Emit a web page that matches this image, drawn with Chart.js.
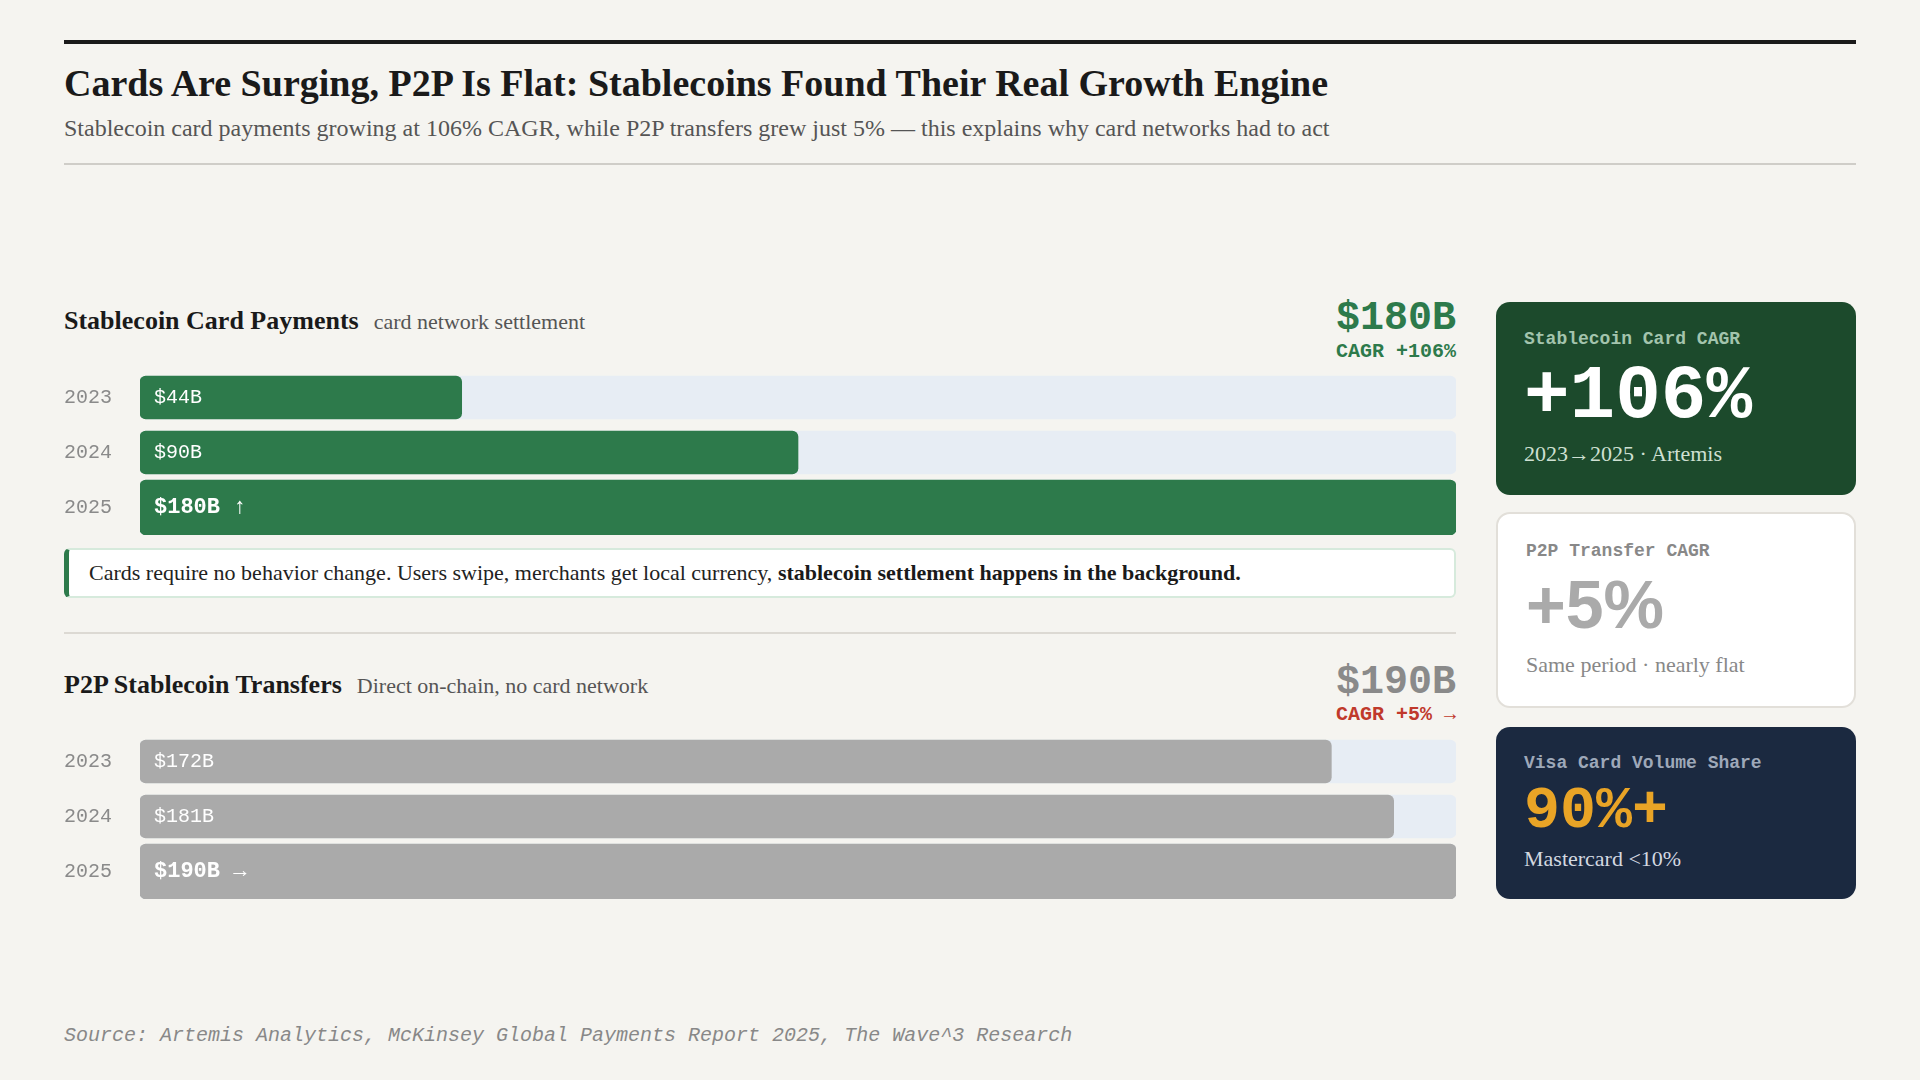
<!DOCTYPE html>
<html>
<head>
<meta charset="utf-8">
<script src="https://cdn.jsdelivr.net/npm/chart.js@4.4.1/dist/chart.umd.min.js"></script>
<style>
  html, body { margin:0; padding:0; }
  body { width:1920px; height:1080px; background:#f5f4f0; position:relative; overflow:hidden; font-family:"Liberation Serif", serif; }
  .abs { position:absolute; }
  .rule-top { left:64px; top:40px; width:1792px; height:4px; background:#1a1a1a; }
  .title { left:64px; top:61.4px; font-size:38px; line-height:45.6px; font-weight:bold; color:#1a1a1a; white-space:nowrap; }
  .subtitle { left:64px; top:113.5px; font-size:24px; line-height:28.8px; color:#555; white-space:nowrap; }
  .rule-thin { left:64px; top:163px; width:1792px; height:2px; background:#cfcdc8; }
  .sec-title { left:64px; font-size:26px; line-height:30px; font-weight:bold; color:#1a1a1a; white-space:nowrap; }
  .sec-title span { font-weight:normal; font-size:22px; color:#555; margin-left:15px; }
  .big-val { right:464px; font-family:"Liberation Mono", monospace; font-weight:bold; font-size:40px; line-height:40px; text-align:right; white-space:nowrap; }
  .cagr { right:464px; font-family:"Liberation Mono", monospace; font-weight:bold; font-size:20px; line-height:24px; text-align:right; white-space:nowrap; }
  .chart-box { left:64px; width:1392px; height:165px; }
  .note { left:64px; top:548px; width:1392px; height:50px; box-sizing:border-box; background:#fff; border:2px solid #d6eadc; border-left:5px solid #2d7a4b; border-radius:6px; display:flex; align-items:center; padding-left:20px; font-size:22px; line-height:26px; color:#222; white-space:nowrap; }
  .note b { color:#1a1a1a; }
  .divider { left:64px; top:632px; width:1392px; height:2px; background:#dcd9d3; }
  .card { left:1496px; width:360px; box-sizing:border-box; border-radius:14px; }
  .card .lbl { position:absolute; left:28px; font-family:"Liberation Mono", monospace; font-weight:bold; font-size:18px; line-height:22px; white-space:nowrap; }
  .card .num { position:absolute; left:28px; font-family:"Liberation Mono", monospace; font-weight:bold; white-space:nowrap; }
  .card .sub { position:absolute; left:28px; font-size:22px; line-height:26.4px; white-space:nowrap; }
  .source { left:64px; top:1023.7px; font-family:"Liberation Mono", monospace; font-style:italic; font-size:20px; line-height:24px; color:#888; white-space:nowrap; }
</style>
</head>
<body>
  <div class="abs rule-top"></div>
  <div class="abs title">Cards Are Surging, P2P Is Flat: Stablecoins Found Their Real Growth Engine</div>
  <div class="abs subtitle">Stablecoin card payments growing at 106% CAGR, while P2P transfers grew just 5% — this explains why card networks had to act</div>
  <div class="abs rule-thin"></div>

  <!-- Section 1 -->
  <div class="abs sec-title" style="top:306.2px;">Stablecoin Card Payments<span>card network settlement</span></div>
  <div class="abs big-val" style="top:299.3px; color:#2d7a4b;">$180B</div>
  <div class="abs cagr" style="top:339.7px; color:#2d7a4b;">CAGR +106%</div>
  <div class="abs chart-box" style="top:370px;"><canvas id="cardChart"></canvas></div>
  <div class="abs note">Cards require no behavior change. Users swipe, merchants get local currency,&nbsp;<b>stablecoin settlement happens in the background.</b></div>
  <div class="abs divider"></div>

  <!-- Section 2 -->
  <div class="abs sec-title" style="top:670.2px;">P2P Stablecoin Transfers<span>Direct on-chain, no card network</span></div>
  <div class="abs big-val" style="top:663.3px; color:#8a8a8a;">$190B</div>
  <div class="abs cagr" style="top:702.7px; color:#c0392b;">CAGR +5% →</div>
  <div class="abs chart-box" style="top:734px;"><canvas id="p2pChart"></canvas></div>

  <!-- Right cards -->
  <div class="abs card" style="top:302px; height:193px; background:#1c4a2c;">
    <div class="lbl" style="top:26px; color:#a3c4ad;">Stablecoin Card CAGR</div>
    <div class="num" style="top:56.7px; font-size:76px; line-height:76px; color:#ffffff;">+106%</div>
    <div class="sub" style="top:139.4px; color:#cfe0d3;">2023→2025 · Artemis</div>
  </div>
  <div class="abs card" style="top:512px; height:196px; background:#ffffff; border:2px solid #e2dfd9;">
    <div class="lbl" style="top:26px; color:#888;">P2P Transfer CAGR</div>
    <div class="num" style="top:56.4px; font-family:'Liberation Sans', sans-serif; font-size:68px; line-height:68px; color:#aaaaaa;">+5%</div>
    <div class="sub" style="top:138.4px; color:#888;">Same period · nearly flat</div>
  </div>
  <div class="abs card" style="top:727px; height:172px; background:#1b2940;">
    <div class="lbl" style="top:25px; color:#9ea8b9;">Visa Card Volume Share</div>
    <div class="num" style="top:54px; font-size:60px; line-height:60px; color:#e9a426;">90%+</div>
    <div class="sub" style="top:119.4px; color:#d3d8e0;">Mastercard &lt;10%</div>
  </div>

  <div class="abs source">Source: Artemis Analytics, McKinsey Global Payments Report 2025, The Wave^3 Research</div>

<script>
// ---- Data ----
const years = ['2023', '2024', '2025'];
const cardValues = [44, 90, 180];      // $B, stablecoin card payments
const p2pValues = [172, 181, 190];     // $B, P2P stablecoin transfers
const cardScaleMax = 180;
const p2pScaleMax = 190;
const cardArrow = '↑';
const p2pArrow = '→';

const barLabelPlugin = {
  id: 'barLabelPlugin',
  afterDatasetsDraw(chart) {
    const ctx = chart.ctx;
    chart.data.datasets.forEach((ds, i) => {
      if (!ds.isValue) return;
      const meta = chart.getDatasetMeta(i);
      meta.data.forEach((el, j) => {
        const v = ds.data[j];
        if (v === null || v === undefined) return;
        ctx.save();
        ctx.font = (ds.isFinal ? 'bold 22px' : '20px') + ' "Liberation Mono", monospace';
        ctx.fillStyle = '#ffffff';
        ctx.textBaseline = 'middle';
        ctx.textAlign = 'left';
        const txt = '$' + v + 'B' + (ds.isFinal ? ' ' + ds.arrow : '');
        ctx.fillText(txt, el.base + 14, el.y);
        ctx.restore();
      });
    });
  }
};

function makeChart(id, values, scaleMax, color, arrow) {
  const last = values.length - 1;
  const early = values.map((v, i) => i < last ? v : null);
  const final = values.map((v, i) => i === last ? v : null);
  const trackEarly = values.map((v, i) => i < last ? scaleMax : null);
  const trackFinal = values.map((v, i) => i === last ? scaleMax : null);
  const common = { grouped: false, borderRadius: 6, borderSkipped: false, borderWidth: 0 };
  return new Chart(document.getElementById(id), {
    type: 'bar',
    data: {
      labels: years,
      datasets: [
        Object.assign({ data: trackEarly, backgroundColor: '#e7edf4', barThickness: 43, order: 2 }, common),
        Object.assign({ data: trackFinal, backgroundColor: '#e7edf4', barThickness: 55, order: 2 }, common),
        Object.assign({ data: early, backgroundColor: color, barThickness: 43, order: 1, isValue: true, isFinal: false, arrow: arrow }, common),
        Object.assign({ data: final, backgroundColor: color, barThickness: 55, order: 1, isValue: true, isFinal: true, arrow: arrow }, common)
      ]
    },
    options: {
      indexAxis: 'y',
      responsive: true,
      maintainAspectRatio: false,
      animation: false,
      layout: { padding: 0 },
      plugins: { legend: { display: false }, tooltip: { enabled: false } },
      scales: {
        x: { display: false, min: 0, max: scaleMax },
        y: {
          grid: { display: false },
          border: { display: false },
          ticks: { color: '#8a8a8a', font: { family: '"Liberation Mono", monospace', size: 20 }, crossAlign: 'far', padding: 0 },
          afterFit: (s) => { s.width = 76; s.paddingTop = 0; s.paddingBottom = 0; }
        }
      }
    },
    plugins: [barLabelPlugin]
  });
}

makeChart('cardChart', cardValues, cardScaleMax, '#2d7a4b', cardArrow);
makeChart('p2pChart', p2pValues, p2pScaleMax, '#aaaaaa', p2pArrow);
</script>
</body>
</html>
